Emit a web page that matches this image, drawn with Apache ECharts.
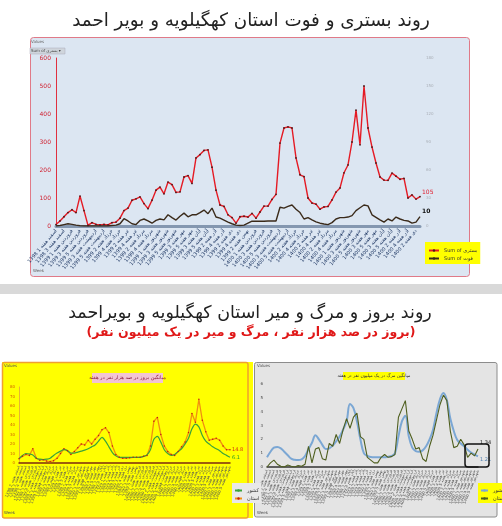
<!DOCTYPE html>
<html><head><meta charset="utf-8">
<script src="https://cdn.jsdelivr.net/npm/echarts@6/dist/echarts.min.js"></script>
<style>html,body{margin:0;padding:0;background:#fff}#c{width:502px;height:526px}</style>
</head><body><div id="c"></div>
<script>
// ---------- data ----------
const monthNames = ['فروردین','اردیبهشت','خرداد','تیر','مرداد','شهریور','مهر','آبان','آذر','دی','بهمن','اسفند'];
function weekLabel(y, w) {
  const m = Math.min(11, Math.floor((w - 1) / 4.34));
  const k = w - Math.round(m * 4.34);
  return y + ' ' + monthNames[m] + ' هفته ' + Math.max(1, k);
}
const topCategories = [];
for (let i = 0; i < 92; i++) {
  if (i < 4) topCategories.push(weekLabel(1398, 49 + i));
  else if (i < 50) topCategories.push(weekLabel(1399, i - 3));
  else topCategories.push(weekLabel(1400, i - 49));
}
const hospitalized = [5,18,33,48,58,48,107,55,2,12, 6,4,6,4,12,14,28,55,64,92,
  97,104,80,62,92,128,139,115,157,148, 120,122,175,180,152,243,255,270,272,210,
  128,75,70,40,30, 10,33,35,32,45,28,50,71,71,95,113,
  296,350,354,350,243,183,176,100,82,78,60, 68,70,93,121,136,190,218,300,414,290,500,
  350,282,225,175,164,163,189,178,167,170,100,111,96,105];
const deaths = [0,0.6,1.5,2.4,1.8,0.9,0.3,0,0,0, 0,0,0,0,0.6,0.9,2.4,7.8,5.4,2.4,
  1.5,6,7.5,5.4,3,6,7.5,6.6,12,9, 6.3,10.5,13.8,9.9,12,12,14.4,17.1,13.2,19.2,
  9.6,8.4,6.3,4.2,2.4, 0.9,0.6,0.9,3,5.1,5.1,5.1,5.1,5.4,5.4,5.4,
  20.1,19.2,21,22.5,18,14.4,7.5,9,6.6,4.5,3, 2.1,1.5,3.6,7.5,9,9,9.6,11.1,16.5,19.5,22.5,
  21.6,12,9.3,6.6,4.2,7.5,5.4,9.6,7.5,6,5.4,3,4.2,10];
const topLeftTicks = {min: 0, max: 600, interval: 100};
const topRightTicks = {min: 0, max: 180, interval: 30};

const bottomCategories = [];
for (let i = 0; i < 62; i++) {
  if (i < 3) bottomCategories.push(weekLabel(1398, 50 + i));
  else if (i < 35) bottomCategories.push(weekLabel(1399, (i - 2) * 1.5 | 0 || 1));
  else bottomCategories.push(weekLabel(1400, i - 34));
}
const incidenceProvince = [4.6,7,9,8,15,5,3,3.5,2,1.5, 2.5,5,10,15,13,9,12,16,20,19,
  24,20,25,29,35,37,32,18,9,6, 5,5,5.5,6,6,6,7,8,18,44,
  48,30,18,12,9,8,12,17,22,32, 52,43,67,45,33,24,25,26,24,18, 14,14];
const incidenceCountry = [4.6,8,10,9.5,8.5,5,4,3.5,4,5, 8,10.5,12.5,14,13,10.5,10.5,11.5,12.5,13.5,
  15,17,19,23,27,23,17,11,7.5,6, 6,6,6,6,6,6,7,8.5,14,25,
  28,22,14,10,8,9,12,15,20,26, 36,41,38,29,23,20,17,15,13,10, 8,6];
const incidenceTicks = {min: 0, max: 80, interval: 10};

const mortalityCountry = [0.7,1.1,1.4,1.45,1.35,1.1,0.85,0.6,0.52,0.5, 0.55,0.8,1.3,1.75,2.3,2.0,1.6,1.3,1.35,1.55,
  1.85,2.2,2.7,3.3,4.55,4.25,3.3,2.0,1.0,0.8, 0.72,0.7,0.7,0.7,0.7,0.75,0.8,1.0,2.2,3.3,
  3.7,2.2,1.4,1.15,1.1,1.2,1.5,2.0,2.7,3.9, 4.9,5.35,4.85,3.5,2.6,1.95,1.7,1.5,1.25,1.05, 0.9,0.77];
const mortalityProvince = [0,0.3,0.5,0.2,0.05,0,0.15,0.05,0,0.1, 0.05,0.2,1.5,0.3,1.3,1.4,0.6,0.5,1.7,1.5,
  2.35,1.7,2.7,3.5,2.8,3.6,3.9,2.2,2.0,0.7, 0.5,0.3,0.3,0.7,0.9,0.7,0.75,0.9,3.6,4.2,
  4.8,2.6,2.0,1.3,1.4,0.6,0.4,1.5,2.3,3.4, 4.5,5.2,4.8,2.6,1.4,1.5,2.0,1.6,0.7,1.0, 0.8,1.3];
const mortalityTicks = {min: 0, max: 6, interval: 1};

// ---------- chart ----------
const FONT = 'DejaVu Sans';
const chart = echarts.init(document.getElementById('c'), null, {renderer: 'canvas'});

const graphic = [
  {type: 'rect', z: -100, shape: {x: 30.5, y: 37.5, width: 439, height: 239, r: 3}, style: {fill: '#dce6f2', stroke: '#e07a88', lineWidth: 1}},
  {type: 'text', z: 10, x: 251, y: 21, style: {text: 'روند بستری و فوت استان کهگیلویه و بویر احمد', font: '18.3px ' + FONT, fill: '#222', textAlign: 'center', textVerticalAlign: 'middle'}},
  {type: 'text', z: 10, x: 31, y: 42, style: {text: 'Values', font: '4px ' + FONT, fill: '#666', textVerticalAlign: 'middle'}},
  {type: 'rect', z: 10, shape: {x: 30, y: 48, width: 35, height: 6}, style: {fill: '#cfd5dc', stroke: '#aab', lineWidth: 0.5}},
  {type: 'text', z: 11, x: 31, y: 51, style: {text: 'Sum of بستری ▾', font: '4px ' + FONT, fill: '#444', textVerticalAlign: 'middle'}},
  {type: 'text', z: 10, x: 33, y: 271, style: {text: 'Week', font: '4px ' + FONT, fill: '#666', textVerticalAlign: 'middle'}},
  {type: 'rect', z: -100, shape: {x: 0, y: 284, width: 502, height: 10}, style: {fill: '#d9d9d9'}},
  {type: 'text', z: 10, x: 250, y: 313, style: {text: 'روند بروز و مرگ و میر استان کهگیلویه و بویراحمد', font: '17.5px ' + FONT, fill: '#222', textAlign: 'center', textVerticalAlign: 'middle'}},
  {type: 'text', z: 10, x: 251, y: 333, style: {text: '(بروز در صد هزار نفر ، مرگ و میر در یک میلیون نفر)', font: 'bold 12.5px ' + FONT, fill: '#e01818', textAlign: 'center', textVerticalAlign: 'middle'}},
  {type: 'rect', z: -100, shape: {x: 2, y: 362, width: 251, height: 156}, style: {fill: '#ffff00'}},
  {type: 'rect', z: -99, shape: {x: 2.5, y: 362.5, width: 245.5, height: 155.5, r: 2}, style: {fill: 'none', stroke: '#f0a030', lineWidth: 1.5}},
  {type: 'text', z: 10, x: 4, y: 366, style: {text: 'Values', font: '4px ' + FONT, fill: '#555', textVerticalAlign: 'middle'}},
  {type: 'text', z: 10, x: 4, y: 513, style: {text: 'Week', font: '4px ' + FONT, fill: '#555', textVerticalAlign: 'middle'}},
  {type: 'rect', z: 10, shape: {x: 92, y: 373, width: 71, height: 10}, style: {fill: '#f2c4d4'}},
  {type: 'text', z: 11, x: 127.5, y: 378, style: {text: 'میانگین بروز در صد هزار نفر در هفته', font: '5px ' + FONT, fill: '#8b1a3a', textAlign: 'center', textVerticalAlign: 'middle'}},
  {type: 'rect', z: -100, shape: {x: 254.5, y: 362.5, width: 242.5, height: 154.5, r: 2}, style: {fill: '#e4e4e4', stroke: '#8c8c8c', lineWidth: 1}},
  {type: 'text', z: 10, x: 257, y: 366, style: {text: 'Values', font: '4px ' + FONT, fill: '#555', textVerticalAlign: 'middle'}},
  {type: 'text', z: 10, x: 257, y: 513, style: {text: 'Week', font: '4px ' + FONT, fill: '#555', textVerticalAlign: 'middle'}},
  {type: 'rect', z: 10, shape: {x: 343, y: 372, width: 62, height: 8}, style: {fill: '#ffff00'}},
  {type: 'text', z: 11, x: 374, y: 376, style: {text: 'میانگین مرگ در یک میلیون نفر در هفته', font: '4.5px ' + FONT, fill: '#333', textAlign: 'center', textVerticalAlign: 'middle'}},
  {type: 'rect', z: 10, shape: {x: 465, y: 444, width: 24, height: 23, r: 3}, style: {fill: 'none', stroke: '#111', lineWidth: 1.5}}
];

const option = {
  animation: false,
  backgroundColor: '#ffffff',
  textStyle: {fontFamily: FONT},
  graphic: graphic,
  legend: [
    {data: ['Sum of بستری', 'Sum of فوت'], left: 425, top: 242, orient: 'vertical', backgroundColor: '#ffff00',
      itemWidth: 10, itemHeight: 3, itemGap: 3, padding: [6, 3, 3, 3], textStyle: {fontSize: 5, color: '#333'}},
    {data: ['کشور', 'استان'], left: 232, top: 483, orient: 'vertical', backgroundColor: '#e8e8e8',
      itemWidth: 7, itemHeight: 3, itemGap: 3, padding: [5, 2, 2, 2], textStyle: {fontSize: 5, color: '#333'}},
    {data: ['کشور ', 'استان '], left: 478, top: 483, orient: 'vertical', backgroundColor: '#ffff00',
      itemWidth: 7, itemHeight: 3, itemGap: 3, padding: [5, 2, 2, 2], textStyle: {fontSize: 5, color: '#333'}}
  ],
  grid: [
    {left: 56, right: 82, top: 58, bottom: 300},
    {left: 19, right: 272, top: 387, bottom: 63},
    {left: 267, right: 24, top: 384, bottom: 59}
  ],
  xAxis: [
    {gridIndex: 0, type: 'category', data: topCategories, boundaryGap: false,
      axisLine: {lineStyle: {color: '#8497b0', width: 3}}, axisTick: {show: false},
      axisLabel: {interval: 1, rotate: 50, fontSize: 5, color: '#1f3864', margin: 4}},
    {gridIndex: 1, type: 'category', data: bottomCategories, boundaryGap: false,
      axisLine: {lineStyle: {color: '#7f2a10', width: 1.5}}, axisTick: {show: false},
      axisLabel: {interval: 0, rotate: 68, fontSize: 4, color: '#555', margin: 3}},
    {gridIndex: 2, type: 'category', data: bottomCategories, boundaryGap: false,
      axisLine: {lineStyle: {color: '#333', width: 1.5}}, axisTick: {show: false},
      axisLabel: {interval: 0, rotate: 68, fontSize: 4, color: '#555', margin: 3}}
  ],
  yAxis: [
    {gridIndex: 0, type: 'value', min: topLeftTicks.min, max: topLeftTicks.max, interval: topLeftTicks.interval,
      axisLine: {show: true, lineStyle: {color: '#e03040', width: 1}}, axisTick: {show: false}, splitLine: {show: false},
      axisLabel: {fontSize: 6, color: '#d02030', margin: 5}},
    {gridIndex: 0, type: 'value', position: 'right', min: topRightTicks.min, max: topRightTicks.max, interval: topRightTicks.interval,
      axisLine: {show: false}, axisTick: {show: false}, splitLine: {show: false},
      axisLabel: {fontSize: 4, color: '#aab0b8', margin: 6}},
    {gridIndex: 1, type: 'value', min: incidenceTicks.min, max: incidenceTicks.max, interval: incidenceTicks.interval,
      axisLine: {show: true, lineStyle: {color: '#e0a040', width: 0.8}}, axisTick: {show: false}, splitLine: {show: false},
      axisLabel: {fontSize: 4, color: '#d06000', margin: 4}},
    {gridIndex: 2, type: 'value', min: mortalityTicks.min, max: mortalityTicks.max, interval: mortalityTicks.interval,
      axisLine: {show: false}, axisTick: {show: false}, splitLine: {show: false},
      axisLabel: {fontSize: 4, color: '#444', margin: 4}}
  ],
  series: [
    {name: 'Sum of بستری', type: 'line', xAxisIndex: 0, yAxisIndex: 0, data: hospitalized,
      lineStyle: {color: '#e51a24', width: 1.4}, itemStyle: {color: '#4a1a1a'}, symbol: 'circle', symbolSize: 1.8, showAllSymbol: true,
      endLabel: {show: true, formatter: '105', color: '#e02030', fontSize: 6, distance: 2, offset: [0, -4]}},
    {name: 'Sum of فوت', type: 'line', xAxisIndex: 0, yAxisIndex: 1, data: deaths,
      lineStyle: {color: '#3a2a1a', width: 1.4}, itemStyle: {color: '#3a2a1a'}, symbol: 'none',
      endLabel: {show: true, formatter: '10', color: '#111', fontSize: 6, fontWeight: 'bold', distance: 2, offset: [0, -5]}},
    {name: 'استان', type: 'line', xAxisIndex: 1, yAxisIndex: 2, data: incidenceProvince,
      lineStyle: {color: '#f09010', width: 1.3}, itemStyle: {color: '#c02010'}, symbol: 'circle', symbolSize: 1.5, showAllSymbol: true,
      endLabel: {show: true, formatter: '14.8', color: '#d03010', fontSize: 5, distance: 2}},
    {name: 'کشور', type: 'line', xAxisIndex: 1, yAxisIndex: 2, data: incidenceCountry, smooth: 0.3,
      lineStyle: {color: '#3aa33a', width: 1.2}, itemStyle: {color: '#3aa33a'}, symbol: 'none',
      endLabel: {show: true, formatter: '6.1', color: '#2a9a2a', fontSize: 5, distance: 2}},
    {name: 'کشور ', type: 'line', xAxisIndex: 2, yAxisIndex: 3, data: mortalityCountry, smooth: 0.4,
      lineStyle: {color: '#7ba7d4', width: 2}, itemStyle: {color: '#7ba7d4'}, symbol: 'none',
      endLabel: {show: true, formatter: '1.21', color: '#4f7faf', fontSize: 5, distance: 2, offset: [0, 3]}},
    {name: 'استان ', type: 'line', xAxisIndex: 2, yAxisIndex: 3, data: mortalityProvince,
      lineStyle: {color: '#4f5f1f', width: 1.1}, itemStyle: {color: '#4f5f1f'}, symbol: 'none',
      endLabel: {show: true, formatter: '1.34', color: '#222', fontSize: 5, distance: 2, offset: [0, -6]}}
  ]
};
chart.setOption(option);
</script>
</body></html>
